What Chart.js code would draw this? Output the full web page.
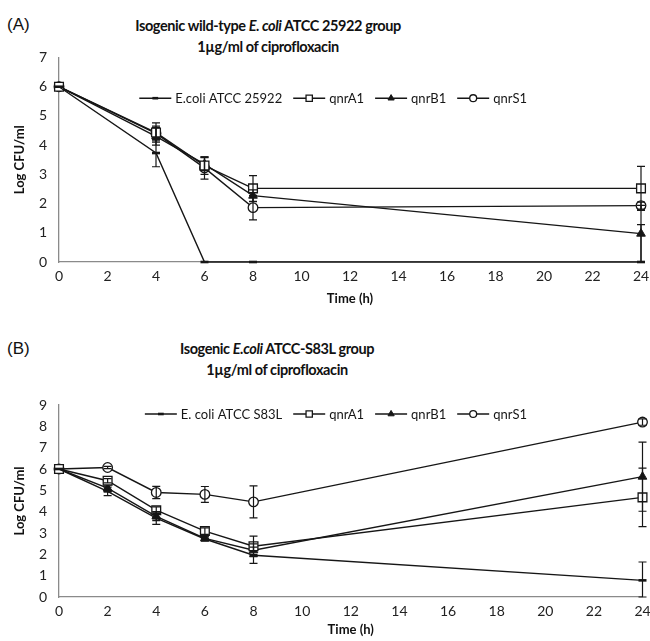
<!DOCTYPE html>
<html>
<head>
<meta charset="utf-8">
<script src="https://cdn.jsdelivr.net/npm/chart.js@4.4.0/dist/chart.umd.min.js"></script>
<style>
  body { margin: 0; width: 650px; height: 641px; background: #fff; position: relative; overflow: hidden; font-family: Lato, sans-serif; color: #111; }
  .panel { position: absolute; left: 7px; font-family: "Liberation Sans", Arial, sans-serif; font-size: 17px; }
  .title { position: absolute; left: 0; text-align: center; font-weight: bold; font-size: 14.5px; letter-spacing: -0.4px; line-height: 21px; }
  .box { position: absolute; left: 0; width: 650px; }
</style>
</head>
<body>
<div class="panel" style="top:15px">(A)</div>
<div class="title" style="top:15px;width:536px">Isogenic wild-type <i>E. coli</i> ATCC 25922 group<br>1µg/ml of ciprofloxacin</div>
<div class="box" style="top:50px;height:260px"><canvas id="chartA"></canvas></div>

<div class="panel" style="top:339px">(B)</div>
<div class="title" style="top:338px;width:554px">Isogenic <i>E.coli</i> ATCC-S83L group<br>1µg/ml of ciprofloxacin</div>
<div class="box" style="top:395px;height:246px"><canvas id="chartB"></canvas></div>

<script>
// ── data: panel A (wild-type ATCC 25922) ──
const timeA      = [0, 4, 6, 8, 24];
const ecoliA     = [6, 3.73, 0, 0, 0];
const ecoliAErr  = [0, 0.47, 0, 0, 1.28];
const qnrA1A     = [6, 4.43, 3.30, 2.52, 2.52];
const qnrA1AErr  = [0, 0.33, 0.30, 0.44, 0.75];
const qnrB1A     = [6, 4.30, 3.35, 2.27, 0.97];
const qnrB1AErr  = [0, 0.30, 0.22, 0.20, 0.97];
const qnrS1A     = [6, 4.40, 3.22, 1.86, 1.93];
const qnrS1AErr  = [0, 0.25, 0.38, 0.42, 0.12];

// ── data: panel B (ATCC-S83L) ──
const timeB      = [0, 2, 4, 6, 8, 24];
const ecoliB     = [6, 4.95, 3.70, 2.72, 1.96, 0.78];
const ecoliBErr  = [0, 0.20, 0.30, 0.10, 0.38, 0.86];
const qnrA1B     = [6, 5.45, 4.07, 3.09, 2.38, 4.67];
const qnrA1BErr  = [0, 0.10, 0.15, 0.15, 0.47, 1.37];
const qnrB1B     = [6, 5.10, 3.78, 2.75, 2.19, 5.64];
const qnrB1BErr  = [0, 0.15, 0.20, 0.10, 0.30, 1.62];
const qnrS1B     = [6, 6.07, 4.90, 4.81, 4.46, 8.20];
const qnrS1BErr  = [0, 0.05, 0.29, 0.37, 0.75, 0.15];

const xTicks = [0, 2, 4, 6, 8, 10, 12, 14, 16, 18, 20, 22, 24];

const INK = '#161616';
const AXIS = '#8a8a8a';
const FONT = 'Lato';

// marker looks, Excel style
const STYLES = {
  ecoli: { pointStyle: 'line',     pointRadius: 4,   pointBorderWidth: 2.6, pointBackgroundColor: INK },
  qnrA1: { pointStyle: 'rect',     pointRadius: 6.2, pointBorderWidth: 1.3, pointBackgroundColor: '#fff' },
  qnrB1: { pointStyle: 'triangle', pointRadius: 5,   pointBorderWidth: 1,   pointBackgroundColor: INK },
  qnrS1: { pointStyle: 'circle',   pointRadius: 4.8, pointBorderWidth: 1.3, pointBackgroundColor: '#fff' },
};

function series(label, key, times, vals, errs) {
  return Object.assign({
    label,
    data: times.map((t, i) => ({ x: t, y: vals[i] })),
    errors: errs,
    borderColor: INK,
    pointBorderColor: INK,
    borderWidth: 1.4,
    tension: 0,
    clip: false,
  }, STYLES[key]);
}

// vertical error bars with caps
const errorBars = {
  id: 'errorBars',
  afterDatasetsDraw(chart) {
    const { ctx, scales: { x, y } } = chart;
    ctx.save();
    ctx.strokeStyle = INK;
    ctx.lineWidth = 1.2;
    chart.data.datasets.forEach(ds => {
      (ds.errors || []).forEach((e, i) => {
        if (!e) return;
        const p = ds.data[i];
        const px = x.getPixelForValue(p.x);
        const top = y.getPixelForValue(p.y + e);
        const bot = y.getPixelForValue(Math.max(y.min, p.y - e));
        ctx.beginPath();
        ctx.moveTo(px, top); ctx.lineTo(px, bot);
        ctx.moveTo(px - 4, top); ctx.lineTo(px + 4, top);
        ctx.moveTo(px - 4, bot); ctx.lineTo(px + 4, bot);
        ctx.stroke();
      });
    });
    ctx.restore();
  }
};

// legend drawn inside plot, line + marker + label
const lineLegend = {
  id: 'lineLegend',
  afterDraw(chart, args, opts) {
    const { ctx, chartArea } = chart;
    ctx.save();
    ctx.font = `13px ${FONT}`;
    ctx.textBaseline = 'middle';
    const segLen = 32, gapTxt = 4, gapItem = 11;
    const items = chart.data.datasets.map(ds => ({ ds, w: ctx.measureText(ds.label).width }));
    const total = items.reduce((s, it) => s + segLen + gapTxt + it.w, 0) + gapItem * (items.length - 1);
    let cx = opts.right - total;
    const cy = chartArea.top + opts.dy;
    items.forEach(({ ds, w }) => {
      ctx.strokeStyle = INK;
      ctx.lineWidth = 1.4;
      ctx.beginPath();
      ctx.moveTo(cx, cy); ctx.lineTo(cx + segLen, cy);
      ctx.stroke();
      ctx.fillStyle = ds.pointBackgroundColor;
      ctx.lineWidth = ds.pointBorderWidth;
      Chart.helpers.drawPoint(ctx, {
        pointStyle: ds.pointStyle,
        radius: ds.pointRadius * 0.72,
        rotation: 0,
        borderWidth: ds.pointBorderWidth
      }, cx + segLen / 2, cy);
      ctx.fillStyle = INK;
      ctx.fillText(ds.label, cx + segLen + gapTxt, cy + 0.5);
      cx += segLen + gapTxt + w + gapItem;
    });
    ctx.restore();
  }
};

function buildChart(id, datasets, yMax, pad, legendOpts) {
  const el = document.getElementById(id);
  const boxH = el.parentElement.clientHeight;
  return new Chart(el, {
    type: 'line',
    data: { datasets },
    plugins: [errorBars, lineLegend],
    options: {
      responsive: true, maintainAspectRatio: false,
      animation: false, devicePixelRatio: 1,
      layout: { padding: { top: pad.top, right: pad.right, left: 0, bottom: 0 } },
      plugins: {
        legend: { display: false },
        tooltip: { enabled: false },
        lineLegend: legendOpts,
      },
      scales: {
        x: {
          type: 'linear', min: 0, max: 24,
          afterBuildTicks: s => { s.ticks = xTicks.map(v => ({ value: v })); },
          afterFit: s => { s.height = boxH - pad.bottom; s.paddingLeft = 0; s.paddingRight = 0; },
          grid: { display: false, drawTicks: false },
          border: { color: AXIS, width: 1.3 },
          ticks: { color: '#222', padding: 6, maxRotation: 0, font: { family: FONT, size: 14 } },
          title: { display: true, text: 'Time (h)', color: '#111', padding: { top: 0, bottom: 3 },
                   font: { family: FONT, size: 13, weight: 'bold' } }
        },
        y: {
          min: 0, max: yMax,
          afterFit: s => { s.width = 59; s.paddingTop = 0; s.paddingBottom = 0; },
          grid: { display: false, drawTicks: false },
          border: { color: AXIS, width: 1.3 },
          ticks: { stepSize: 1, color: '#222', padding: 12, font: { family: FONT, size: 14 } },
          title: { display: true, text: 'Log CFU/ml', color: '#111', padding: { top: 12, bottom: 0 },
                   font: { family: FONT, size: 13, weight: 'bold' } }
        }
      }
    }
  });
}

buildChart('chartA', [
  series('E.coli ATCC 25922', 'ecoli', timeA, ecoliA, ecoliAErr),
  series('qnrA1', 'qnrA1', timeA, qnrA1A, qnrA1AErr),
  series('qnrB1', 'qnrB1', timeA, qnrB1A, qnrB1AErr),
  series('qnrS1', 'qnrS1', timeA, qnrS1A, qnrS1AErr),
], 7, { top: 6, right: 9, bottom: 212 }, { right: 527, dy: 40.7 });

buildChart('chartB', [
  series('E. coli ATCC S83L', 'ecoli', timeB, ecoliB, ecoliBErr),
  series('qnrA1', 'qnrA1', timeB, qnrA1B, qnrA1BErr),
  series('qnrB1', 'qnrB1', timeB, qnrB1B, qnrB1BErr),
  series('qnrS1', 'qnrS1', timeB, qnrS1B, qnrS1BErr),
], 9, { top: 10, right: 7, bottom: 202 }, { right: 527, dy: 9 });
</script>
</body>
</html>
